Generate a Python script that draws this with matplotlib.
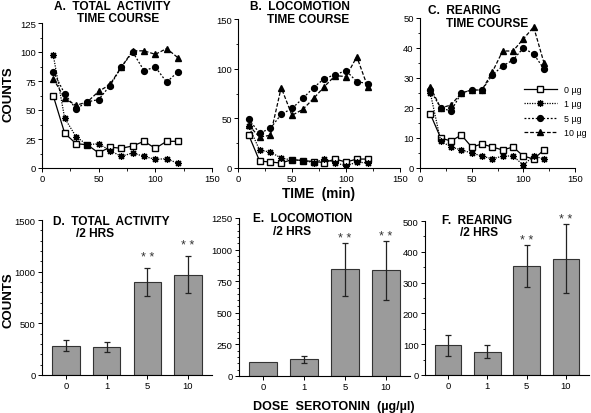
#!/usr/bin/env python3
"""Serotonin dose effects: activity time courses (A-C) and 2 h totals (D-F)."""

import matplotlib
matplotlib.use("Agg")
import matplotlib.pyplot as plt
from matplotlib.ticker import MultipleLocator

plt.rcParams["font.family"] = ["Liberation Sans", "DejaVu Sans"]

# time course (min)
times = [10, 20, 30, 40, 50, 60, 70, 80, 90, 100, 110, 120]
doses = ["0 µg", "1 µg", "5 µg", "10 µg"]

total_0 = [62, 30, 21, 20, 13, 18, 17, 19, 23, 17, 23, 23]
total_1 = [97, 43, 27, 20, 21, 15, 10, 13, 10, 7.5, 8, 4]
total_5 = [83, 64, 51, 57, 59, 71, 87, 100, 84, 87, 74, 83]
total_10 = [77, 60, 54, 57, 66, 72, 87, 101, 101, 98, 103, 95]

loco_0 = [33, 7, 6, 5, 8.5, 7.5, 6.5, 5.5, 9, 6, 9, 9]
loco_1 = [42, 18, 16, 10, 8, 7.5, 5.5, 9, 5.5, 2, 6, 5]
loco_5 = [49, 35, 40, 54, 60, 70, 81, 90, 94, 98, 87, 85]
loco_10 = [43, 31, 33, 81, 53, 59, 70, 82, 93, 92, 112, 82]

rear_0 = [18, 10, 9, 11, 7, 8, 7, 6, 7, 4, 3, 6]
rear_1 = [25, 9, 7, 6, 5, 4, 3, 4, 4, 1, 4, 3]
rear_5 = [26, 20, 19, 25, 26, 26, 31, 34, 36, 40, 38, 33]
rear_10 = [27, 20, 21, 25, 26, 26, 32, 39, 39, 43, 47, 35]

# 2 h totals
dose_labels = ["0", "1", "5", "10"]
total_mean = [284, 274, 897, 971]
total_err = [50, 50, 135, 180]
loco_mean = [111, 132, 844, 836]
loco_err = [0, 30, 211, 235]
rear_mean = [96, 76, 354, 378]
rear_err = [33, 20, 67, 111]
signif = ["", "", "* *", "* *"]

W, H = 591, 414


def rect(left, top, right, bottom):
    return [left / W, 1 - bottom / H, (right - left) / W, (bottom - top) / H]


def style_axes(ax):
    for side in ("top", "right"):
        ax.spines[side].set_visible(False)
    for side in ("left", "bottom"):
        ax.spines[side].set_linewidth(0.8)
    ax.tick_params(which="major", direction="out", length=3, width=0.7,
                   labelsize=6.8, pad=1.5)
    ax.tick_params(which="minor", direction="out", length=1.8, width=0.6)


def label(fig, x, y, s, size=8.6, rotation=0, ha="left"):
    fig.text(x / W, 1 - y / H, s, fontsize=size, fontweight="bold",
             ha=ha, va="center", rotation=rotation)


line_styles = [
    dict(ls="-", marker="s", mfc="white", mec="black", ms=4.2),
    dict(ls=(0, (1, 1)), marker=(8, 2, 0), mfc="black", mec="black", ms=5, mew=0.9),
    dict(ls=(0, (1.5, 1.5)), marker="o", mfc="black", mec="black", ms=4.2),
    dict(ls=(0, (3, 1.5)), marker="^", mfc="black", mec="black", ms=4.2),
]


def time_panel(ax, series, ymax, ystep):
    for vals, name, st in zip(series, doses, line_styles):
        ax.plot(times, vals, color="black", lw=0.9, label=name, **st)
    ax.set_xlim(0, 150)
    ax.set_ylim(0, ymax)
    ax.xaxis.set_major_locator(MultipleLocator(50))
    ax.xaxis.set_minor_locator(MultipleLocator(25))
    ax.yaxis.set_major_locator(MultipleLocator(ystep))
    ax.yaxis.set_minor_locator(MultipleLocator(ystep / 2))
    style_axes(ax)


def bar_panel(ax, means, errs, ymax, ystep, minor, star_pad):
    xs = range(len(dose_labels))
    ax.bar(xs, means, width=0.68, color="#9b9b9b", edgecolor="#333333", lw=0.8)
    for x, m, e in zip(xs, means, errs):
        if e > 0:
            ax.errorbar(x, m, yerr=e, color="#222222", lw=0.9, capsize=2.5,
                        capthick=0.9)
    for x, m, e, s in zip(xs, means, errs, signif):
        if s:
            ax.annotate(s, (x, m + e), xytext=(0, star_pad),
                        textcoords="offset points", ha="center", va="bottom",
                        fontsize=9, color="#333333")
    ax.set_xlim(-0.59, 3.59)
    ax.set_ylim(0, ymax)
    ax.set_xticks(list(xs))
    ax.set_xticklabels(dose_labels)
    ax.yaxis.set_major_locator(MultipleLocator(ystep))
    ax.yaxis.set_minor_locator(MultipleLocator(minor))
    style_axes(ax)


fig = plt.figure(figsize=(W / 100, H / 100), dpi=100)

ax_a = fig.add_axes(rect(42, 24, 212, 169))
time_panel(ax_a, [total_0, total_1, total_5, total_10], 125, 25)

ax_b = fig.add_axes(rect(238, 20, 400, 169))
time_panel(ax_b, [loco_0, loco_1, loco_5, loco_10], 150, 50)
ax_b.set_xlabel("TIME  (min)", fontsize=9.8, fontweight="bold", labelpad=2)

ax_c = fig.add_axes(rect(420, 19, 575, 169))
time_panel(ax_c, [rear_0, rear_1, rear_5, rear_10], 50, 10)
ax_c.legend(loc="upper left", bbox_to_anchor=(0.64, 0.585), frameon=False,
            fontsize=6.4, handlelength=3.7, handletextpad=0.8,
            labelspacing=0.62, borderpad=0)

ax_d = fig.add_axes(rect(42, 221, 212, 376))
bar_panel(ax_d, total_mean, total_err, 1500, 500, 100, star_pad=4)

ax_e = fig.add_axes(rect(239, 219, 410, 377))
bar_panel(ax_e, loco_mean, loco_err, 1250, 250, 50, star_pad=-1)
ax_e.set_xlabel("DOSE  SEROTONIN  (µg/µl)", fontsize=9, fontweight="bold",
                loc="left", labelpad=5)
ax_e.xaxis.set_label_coords(0.08, -0.15)

ax_f = fig.add_axes(rect(425, 222, 589, 376))
bar_panel(ax_f, rear_mean, rear_err, 500, 100, 50, star_pad=-0.5)

label(fig, 9, 94, "COUNTS", size=9.5, rotation=90, ha="center")
label(fig, 9, 300, "COUNTS", size=9.5, rotation=90, ha="center")

label(fig, 54, 7, "A.  TOTAL  ACTIVITY")
label(fig, 77, 19, "TIME COURSE")
label(fig, 250, 7, "B.  LOCOMOTION")
label(fig, 267, 20, "TIME COURSE")
label(fig, 428, 11, "C.  REARING")
label(fig, 446, 24, "TIME COURSE")
label(fig, 53, 222, "D.  TOTAL  ACTIVITY")
label(fig, 76, 234, "/2 HRS")
label(fig, 253, 219, "E.  LOCOMOTION")
label(fig, 273, 232, "/2 HRS")
label(fig, 442, 221, "F.  REARING")
label(fig, 460, 233, "/2 HRS")

fig.savefig("out.png", dpi=100)
